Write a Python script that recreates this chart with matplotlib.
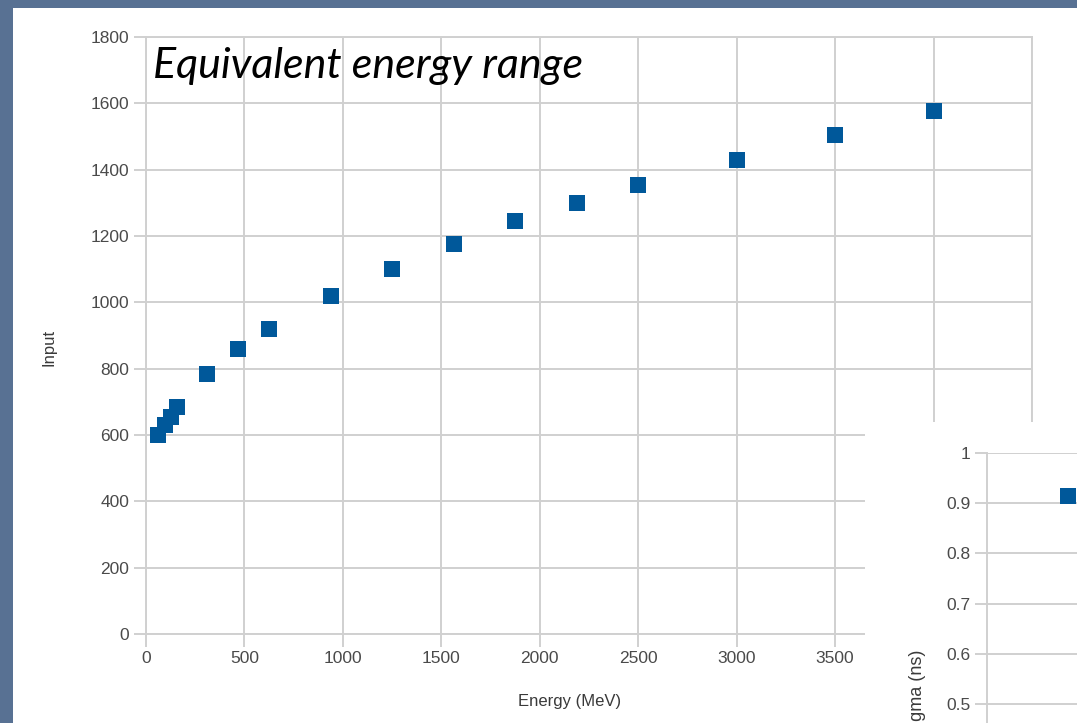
import matplotlib
matplotlib.use("Agg")
import matplotlib.pyplot as plt
from matplotlib.patches import Rectangle

# beam energy (MeV) vs. equivalent input setting
energy = [62.5, 94, 125, 156, 312, 469, 625, 938, 1250, 1563, 1875, 2188, 2500, 3000, 3500, 4000]
input_val = [600, 630, 655, 685, 785, 860, 920, 1020, 1100, 1175, 1245, 1300, 1355, 1430, 1505, 1578]

x_ticks = [0, 500, 1000, 1500, 2000, 2500, 3000, 3500, 4000, 4500]
y_ticks = [0, 200, 400, 600, 800, 1000, 1200, 1400, 1600, 1800]

# second chart partly hidden in the corner
sigma_energy = [410]
sigma_val = [0.914]
sigma_ticks = [0.5, 0.6, 0.7, 0.8, 0.9, 1.0]
sigma_labels = ["0.5", "0.6", "0.7", "0.8", "0.9", "1"]

W, H = 1077, 723
BG = "#587193"
GRID = "#d0d0d0"
MARK = "#00589a"
TICK_TXT = "#4a4a4a"
LABEL_TXT = "#3a3a3a"

plt.rcParams["font.family"] = ["Liberation Sans", "DejaVu Sans"]


def fx(px):
    return px / W


def fy(py):
    return 1 - py / H


fig = plt.figure(figsize=(W / 100, H / 100), dpi=100)
fig.patch.set_facecolor(BG)

# white slide panel
fig.patches.append(Rectangle((fx(13), 0), 1 - fx(13), fy(8), transform=fig.transFigure,
                             facecolor="white", edgecolor="none", zorder=-1))

ax = fig.add_axes([fx(146), fy(634), fx(1032) - fx(146), (634 - 37) / H], zorder=1)
ax.scatter(energy, input_val, marker="s", s=130, color=MARK, zorder=3, linewidths=0)
ax.set_xlim(0, 4500)
ax.set_ylim(0, 1800)
ax.set_xticks(x_ticks)
ax.set_yticks(y_ticks)
ax.set_xticklabels([str(v) if v <= 3500 else "" for v in x_ticks])
ax.grid(True, color=GRID, linewidth=1.4)
ax.set_axisbelow(True)
for s in ax.spines.values():
    s.set_color(GRID)
    s.set_linewidth(1.4)
ax.tick_params(axis="both", direction="out", length=9, width=1.4, color=GRID,
               labelsize=12.5, labelcolor=TICK_TXT, pad=3)
ax.set_xlabel("Energy (MeV)", fontsize=12, color=LABEL_TXT)
ax.set_ylabel("Input", fontsize=12, color=LABEL_TXT)
ax.xaxis.set_label_coords((570 - 146) / (1032 - 146), -(694 - 634) / 597)
ax.yaxis.set_label_coords(-(146 - 57) / (1032 - 146), (634 - 347) / 597)

fig.text(fx(153), fy(78), "Equivalent energy range", fontsize=31, fontstyle="italic",
         family="Lato", color="black", va="baseline", ha="left", zorder=5)

# panel of the overlapping chart
fig.patches.append(Rectangle((fx(865), 0), 1 - fx(865), fy(422), transform=fig.transFigure,
                             facecolor="white", edgecolor="none", zorder=2))

ax2 = fig.add_axes([fx(987), fy(453) - 502 / H, 890 / W, 502 / H], zorder=3)
ax2.patch.set_alpha(0)
ax2.scatter(sigma_energy, sigma_val, marker="s", s=130, color=MARK, zorder=3, linewidths=0)
ax2.set_xlim(0, 4500)
ax2.set_ylim(0, 1.0)
ax2.set_yticks(sigma_ticks)
ax2.set_yticklabels(sigma_labels)
ax2.set_xticks([])
ax2.yaxis.grid(True, color=GRID, linewidth=1.4)
ax2.set_axisbelow(True)
for name, s in ax2.spines.items():
    s.set_visible(name == "left")
    s.set_color(GRID)
    s.set_linewidth(1.4)
ax2.tick_params(axis="y", direction="out", length=9, width=1.4, color=GRID,
                labelsize=12.5, labelcolor=TICK_TXT, pad=3)

fig.text(fx(917), fy(650), "Sigma (ns)", rotation=90, fontsize=13, color=LABEL_TXT,
         ha="center", va="top", zorder=4)

fig.savefig("out.png", dpi=100, facecolor=fig.get_facecolor())
